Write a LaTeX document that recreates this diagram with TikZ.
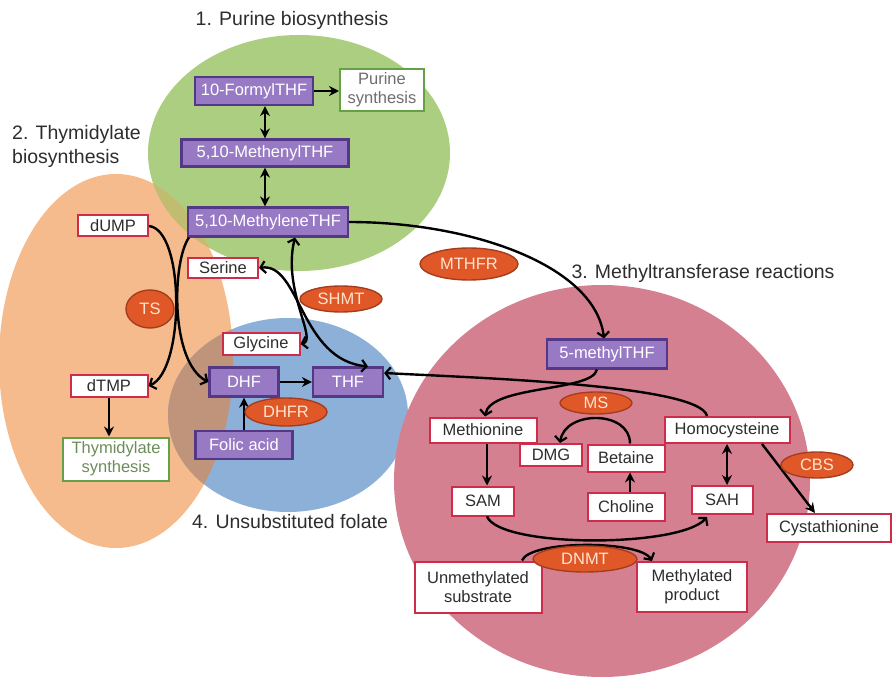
\documentclass[tikz,border=0pt]{standalone}
\usepackage{fontspec}
\setmainfont{Liberation Sans}
\usetikzlibrary{arrows.meta,calc,shapes.geometric}
\definecolor{gfill}{RGB}{172,206,128}
\definecolor{ofill}{RGB}{245,187,140}
\definecolor{bfill}{RGB}{141,176,216}
\definecolor{pfill}{RGB}{213,128,144}
\definecolor{ogover}{RGB}{192,188,112}
\definecolor{obover}{RGB}{192,148,122}
\definecolor{purfill}{RGB}{152,122,196}
\definecolor{purdraw}{RGB}{85,55,135}
\definecolor{redb}{RGB}{205,45,75}
\definecolor{greenb}{RGB}{100,160,70}
\definecolor{enzfill}{RGB}{224,88,40}
\definecolor{enzdraw}{RGB}{165,60,30}
\definecolor{enztext}{RGB}{255,228,205}
\definecolor{txt}{RGB}{45,45,45}
\definecolor{thymtxt}{RGB}{110,140,90}
\definecolor{purtxt}{RGB}{110,110,110}
\tikzset{
  mybarb/.tip={Straight Barb[length=5pt,width=12pt,line width=2.2pt]},
  mysolid/.tip={Stealth[length=10pt,width=10pt]},
}
\begin{document}
\begin{tikzpicture}[x=1pt,y=-1pt,
  nodefont/.style={font=\fontsize{16.5}{19}\selectfont},
  purplebox/.style={nodefont, draw=purdraw, fill=purfill, line width=2.2pt, text=white, inner sep=0pt},
  whitebox/.style={nodefont, draw=redb, fill=white, line width=2pt, text=txt, inner sep=0pt, align=center},
  greenbox/.style={nodefont, draw=greenb, fill=white, line width=2pt, inner sep=0pt, align=center},
  enzyme/.style={nodefont, ellipse, draw=enzdraw, fill=enzfill, line width=1.4pt, text=enztext, inner sep=0pt},
  title/.style={font=\fontsize{19.5}{24}\selectfont, text=txt, inner sep=0pt},
  conn/.style={line width=2.4pt, draw=black},
]
\useasboundingbox (0,0) rectangle (892,679);
% background ellipses
\fill[gfill] (299,153) ellipse [x radius=151pt, y radius=118pt];
\fill[ofill] (116,361) ellipse [x radius=117pt, y radius=187pt];
\begin{scope}
  \clip (116,361) ellipse [x radius=117pt, y radius=187pt];
  \fill[ogover] (299,153) ellipse [x radius=151pt, y radius=118pt];
\end{scope}
\fill[bfill] (288,415) ellipse [x radius=120pt, y radius=97pt];
\begin{scope}
  \clip (116,361) ellipse [x radius=117pt, y radius=187pt];
  \fill[obover] (288,415) ellipse [x radius=120pt, y radius=97pt];
\end{scope}
\fill[pfill] (602,481) ellipse [x radius=208pt, y radius=196pt];

% titles
\node[title] (t1) at (292,20) {1. Purine biosynthesis};
\node[title, align=left, anchor=west] (t2) at (12,146) {2. Thymidylate\\biosynthesis};
\node[title] (t3) at (703,273) {3. Methyltransferase reactions};
\node[title] (t4) at (290,522) {4. Unsubstituted folate};

% boxes
\node[purplebox, minimum width=118pt, minimum height=28pt] (formyl) at (254,91) {10-FormylTHF};
\node[purplebox, minimum width=167pt, minimum height=27pt] (methenyl) at (265,153) {5,10-MethenylTHF};
\node[purplebox, minimum width=160pt, minimum height=29pt] (methylene) at (268,222) {5,10-MethyleneTHF};
\node[greenbox, text=purtxt, minimum width=84pt, minimum height=42pt] (purine) at (382,90) {Purine\\synthesis};
\node[whitebox, minimum width=70pt, minimum height=21pt] (dump) at (113,226) {dUMP};
\node[whitebox, minimum width=70pt, minimum height=20pt] (serine) at (223,268) {Serine};
\node[whitebox, minimum width=77pt, minimum height=22pt] (glycine) at (261,344) {Glycine};
\node[whitebox, minimum width=77pt, minimum height=22pt] (dtmp) at (109,386) {dTMP};
\node[greenbox, text=thymtxt, minimum width=106pt, minimum height=43pt] (thym) at (116,459) {Thymidylate\\synthesis};
\node[purplebox, minimum width=69pt, minimum height=29pt] (dhf) at (244,382) {DHF};
\node[purplebox, minimum width=70pt, minimum height=29pt] (thf) at (348,382) {THF};
\node[purplebox, minimum width=97pt, minimum height=28pt] (folic) at (244,445) {Folic acid};
\node[purplebox, minimum width=120pt, minimum height=29pt] (mthf) at (607,354) {5-methylTHF};
\node[whitebox, minimum width=107pt, minimum height=25pt] (met) at (483,430) {Methionine};
\node[whitebox, minimum width=125pt, minimum height=26pt] (hcy) at (727,430) {Homocysteine};
\node[whitebox, minimum width=62pt, minimum height=22pt] (dmg) at (551,455) {DMG};
\node[whitebox, minimum width=77pt, minimum height=27pt] (bet) at (626,458) {Betaine};
\node[whitebox, minimum width=62pt, minimum height=29pt] (sam) at (483,501) {SAM};
\node[whitebox, minimum width=77pt, minimum height=28pt] (chol) at (626,507) {Choline};
\node[whitebox, minimum width=61pt, minimum height=28pt] (sah) at (722,500) {SAH};
\node[whitebox, minimum width=124pt, minimum height=28pt] (cys) at (829,528) {Cystathionine};
\node[whitebox, minimum width=127pt, minimum height=51pt] (unm) at (478,587) {Unmethylated\\substrate};
\node[whitebox, minimum width=110pt, minimum height=50pt] (mp) at (692,587) {Methylated\\product};

% connectors
\draw[conn,-mysolid] (formyl.east) -- (formyl.east -| purine.west);
\draw[conn,mysolid-mysolid] (methenyl.north |- formyl.south) -- (methenyl.north);
\draw[conn,mysolid-mysolid] (methenyl.south) -- (methenyl.south |- methylene.north);
\draw[conn,-mybarb] (methylene.east) .. controls (470,222) and (595,265) .. ([xshift=-3pt]mthf.north);
\draw[conn,-mybarb] (dump.east) .. controls (185,230) and (185,370) .. (dtmp.east);
\draw[conn,-mysolid] (dtmp.south) -- (dtmp.south |- thym.north);
\draw[conn,-mybarb] ([xshift=2pt]methylene.south west) .. controls (172,262) and (170,362) .. (dhf.west);
\draw[conn,-mysolid] (dhf.east) -- (thf.west);
\draw[conn,-mysolid] (folic.north) -- (dhf.south);
\draw[conn,mybarb-mybarb] (serine.east) .. controls (300,262) and (300,360) .. ([xshift=20pt]thf.north);
\draw[conn,mybarb-mybarb] ([xshift=27pt]methylene.south) .. controls (282,290) and (318,340) .. (glycine.east);
\draw[conn,-mybarb] ([xshift=-10pt]mthf.south) .. controls (592,392) and (490,385) .. ([xshift=2pt]met.north);
\draw[conn,-mybarb] ([xshift=-20pt]hcy.north) .. controls (700,385) and (480,378) .. ([yshift=9pt]thf.east);
\draw[conn,-mybarb] ([xshift=4pt]bet.north) .. controls (630,410) and (565,410) .. ([xshift=9pt]dmg.north);
\draw[conn,-mysolid] ([xshift=4pt]met.south) -- ([xshift=4pt]met.south |- sam.north);
\draw[conn,-mysolid] ([xshift=4pt]chol.north) -- ([xshift=4pt]bet.south);
\draw[conn,mysolid-mysolid] (hcy.south) -- (hcy.south |- sah.north);
\draw[conn,-mysolid] ([xshift=35pt]hcy.south) -- ([xshift=-14pt]cys.north);
\draw[conn,-mybarb] ([xshift=4pt]sam.south) .. controls (500,548) and (680,548) .. ([xshift=-15pt,yshift=-2pt]sah.south);
\draw[conn,-mybarb] ([xshift=44pt]unm.north) .. controls (530,540) and (640,540) .. ([xshift=-40pt]mp.north);

% enzymes
\node[enzyme, minimum width=48pt, minimum height=38pt] (ts) at (150,309) {TS};
\node[enzyme, minimum width=82pt, minimum height=26pt] (shmt) at (341,299) {SHMT};
\node[enzyme, minimum width=98pt, minimum height=32pt] (mthfr) at (469,264) {MTHFR};
\node[enzyme, minimum width=82pt, minimum height=28pt] (dhfr) at (286,412) {DHFR};
\node[enzyme, minimum width=72pt, minimum height=22pt] (ms) at (596,403) {MS};
\node[enzyme, minimum width=72pt, minimum height=26pt] (cbs) at (817,465) {CBS};
\node[enzyme, minimum width=104pt, minimum height=26pt] (dnmt) at (585,559) {DNMT};
\end{tikzpicture}
\end{document}
